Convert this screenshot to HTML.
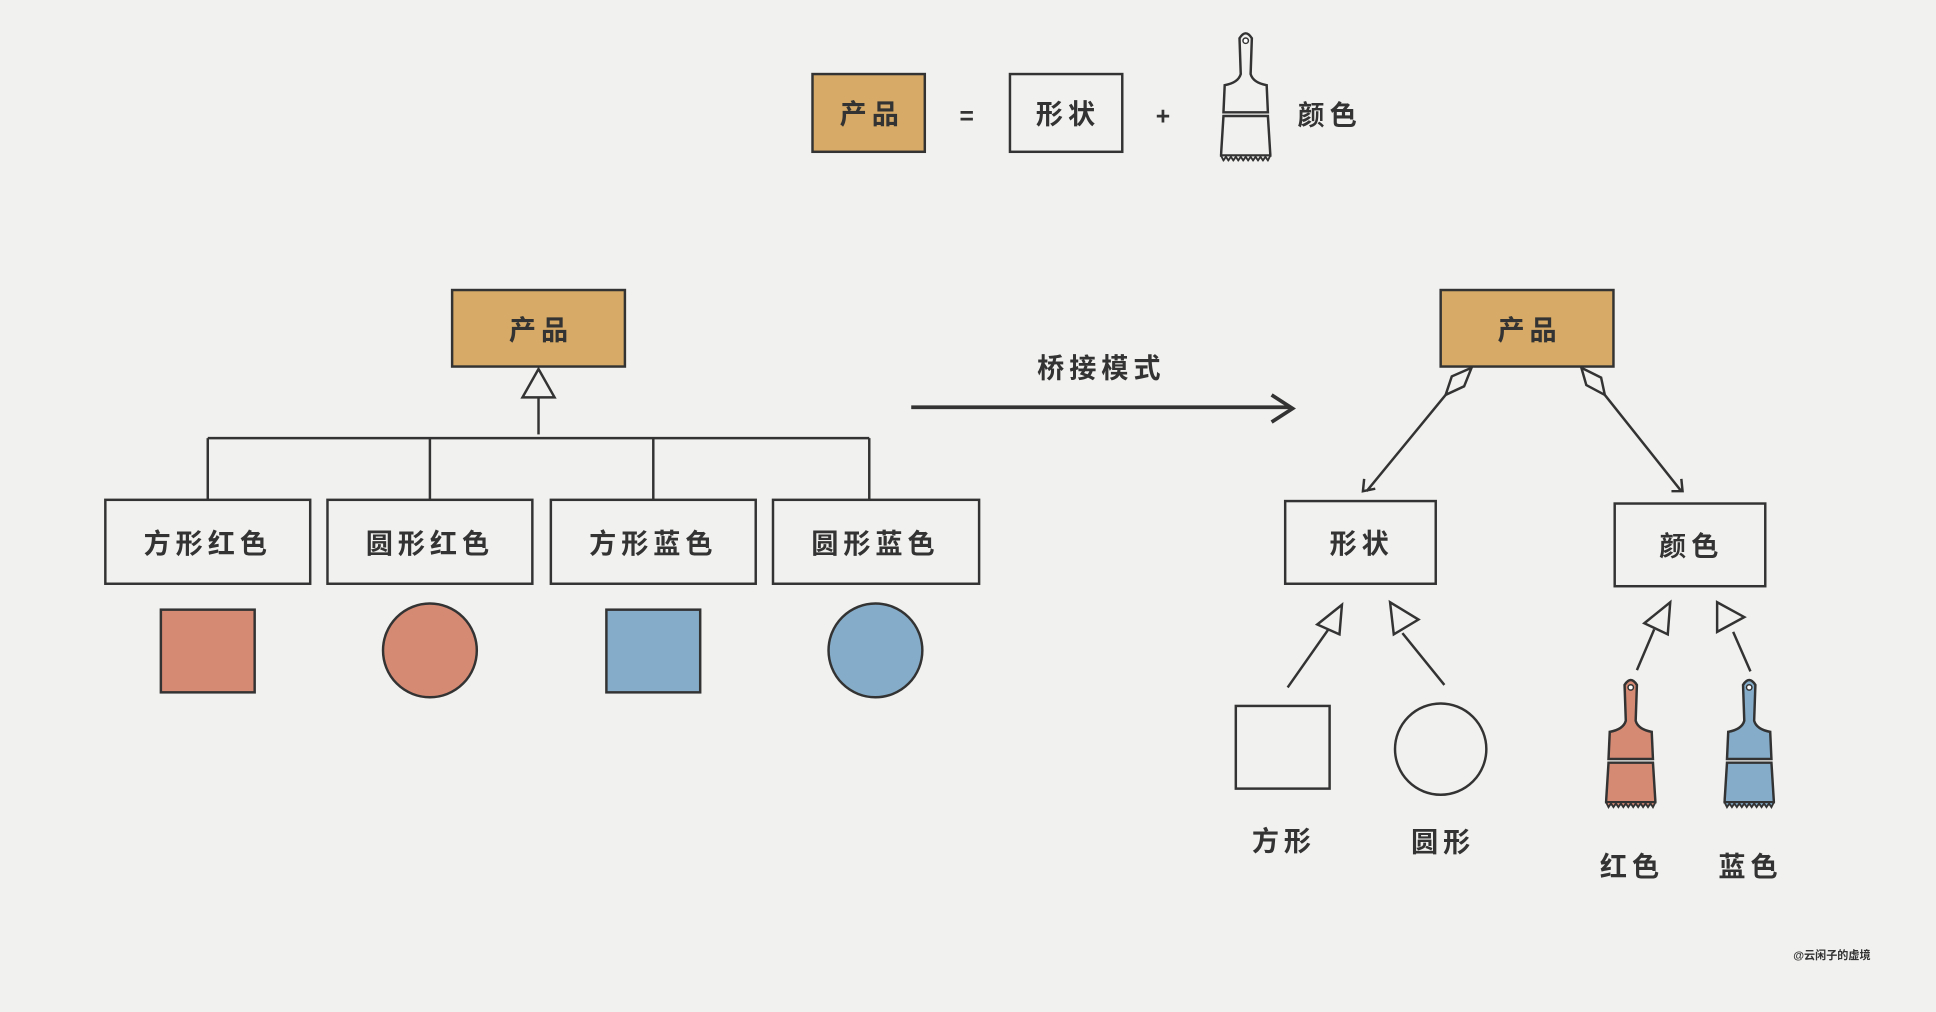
<!DOCTYPE html>
<html><head><meta charset="utf-8"><style>
html,body{margin:0;padding:0;background:#f1f1ef;}
svg{display:block}
text{font-family:"Liberation Sans","Noto Sans CJK SC",sans-serif;fill:#333;font-weight:bold;}
</style></head><body>
<svg width="1936" height="1012" viewBox="0 0 1568 820" xmlns="http://www.w3.org/2000/svg">
<defs>
<symbol id="brush" viewBox="0 0 42 106">
<path d="M17 35 L16 6 Q21 -2 26 6 L25 35 Q27 42 38 44 L39 66 L3 66 L4 44 Q15 42 17 35 Z" fill="currentColor" stroke="#333" stroke-width="2"/>
<path d="M3 69 L39 69 L41 101 L1 101 Z" fill="currentColor" stroke="#333" stroke-width="2"/>
<path d="M1 101 l2 4 l2 -3 l2 3 l2 -3 l2 3 l2 -3 l2 3 l2 -3 l2 3 l2 -3 l2 3 l2 -3 l2 3 l2 -3 l2 3 l2 -3 l2 3 l2 -3 l2 3 l2 -4 Z" fill="currentColor" stroke="#333" stroke-width="1.5"/>
<circle cx="21" cy="8" r="2.2" fill="#fff" stroke="#333" stroke-width="1.2"/>
</symbol>
</defs>
<rect width="1568" height="820" fill="#f1f1ef"/>
<g stroke="#333" stroke-width="2" fill="none">
<!-- top equation -->
<rect x="658" y="60" width="91" height="63" fill="#d7ab67"/>
<rect x="818" y="60" width="91" height="63"/>
<!-- left tree -->
<rect x="366" y="235" width="140" height="62" fill="#d7ab67"/>
<path d="M436 299 L423 322 L449 322 Z"/>
<path d="M436 322 L436 352"/>
<path d="M168 355 L704 355"/>
<path d="M168 355 V405 M348 355 V405 M529 355 V405 M704 355 V405"/>
<rect x="85" y="405" width="166" height="68"/>
<rect x="265" y="405" width="166" height="68"/>
<rect x="446" y="405" width="166" height="68"/>
<rect x="626" y="405" width="167" height="68"/>
<rect x="130" y="494" width="76" height="67" fill="#d58a74"/>
<circle cx="348" cy="527" r="38" fill="#d58a74"/>
<rect x="491" y="494" width="76" height="67" fill="#85adc9"/>
<circle cx="709" cy="527" r="38" fill="#85adc9"/>
<!-- arrow -->
<path d="M738 330 L1045 330" stroke-width="3"/>
<path d="M1030 320 L1047 331 L1030 342" stroke-width="3"/>
<!-- right tree -->
<rect x="1167" y="235" width="140" height="62" fill="#d7ab67"/>
<path d="M1192 298 L1176 305 L1171 320 L1186 313 Z"/>
<path d="M1281 298 L1285 312 L1300 320 L1297 306 Z"/>
<path d="M1171 320 L1107 398 M1105 388 L1104 398 L1114 396"/>
<path d="M1300 320 L1362 398 M1362 388 L1363 398 L1354 398"/>
<rect x="1041" y="406" width="122" height="67"/>
<rect x="1308" y="408" width="122" height="67"/>
<path d="M1087 490 L1085 514 L1067 506 Z"/>
<path d="M1126 488 L1129 514 L1149 502 Z"/>
<path d="M1076 510 L1043 557 M1136 513 L1170 555"/>
<path d="M1353 488 L1351 514 L1332 505 Z"/>
<path d="M1391 488 L1391 512 L1413 500 Z"/>
<path d="M1340 510 L1326 543 M1404 512 L1418 544"/>
<rect x="1001" y="572" width="76" height="67"/>
<circle cx="1167" cy="607" r="37"/>
</g>
<use href="#brush" x="988" y="25" width="42" height="106" style="color:#f1f1ef"/>
<use href="#brush" x="1300" y="548" width="42" height="108" style="color:#d58a74"/>
<use href="#brush" x="1396" y="548" width="42" height="108" style="color:#85adc9"/>
<g font-size="22" text-anchor="middle" letter-spacing="4">
<text x="706" y="100">产品</text>
<text x="785" y="101" font-size="20">=</text>
<text x="865" y="100">形状</text>
<text x="944" y="101" font-size="20">+</text>
<text x="1077" y="101">颜色</text>
<text x="438" y="275">产品</text>
<text x="892" y="306">桥接模式</text>
<text x="168" y="448">方形红色</text>
<text x="348" y="448">圆形红色</text>
<text x="529" y="448">方形蓝色</text>
<text x="709" y="448">圆形蓝色</text>
<text x="1239" y="275">产品</text>
<text x="1103" y="448">形状</text>
<text x="1370" y="450">颜色</text>
<text x="1040" y="689">方形</text>
<text x="1169" y="690">圆形</text>
<text x="1322" y="710">红色</text>
<text x="1418" y="710">蓝色</text>
</g>
<text x="1484" y="777" font-size="9" text-anchor="middle" font-weight="normal">@云闲子的虚境</text>
</svg>
</body></html>
